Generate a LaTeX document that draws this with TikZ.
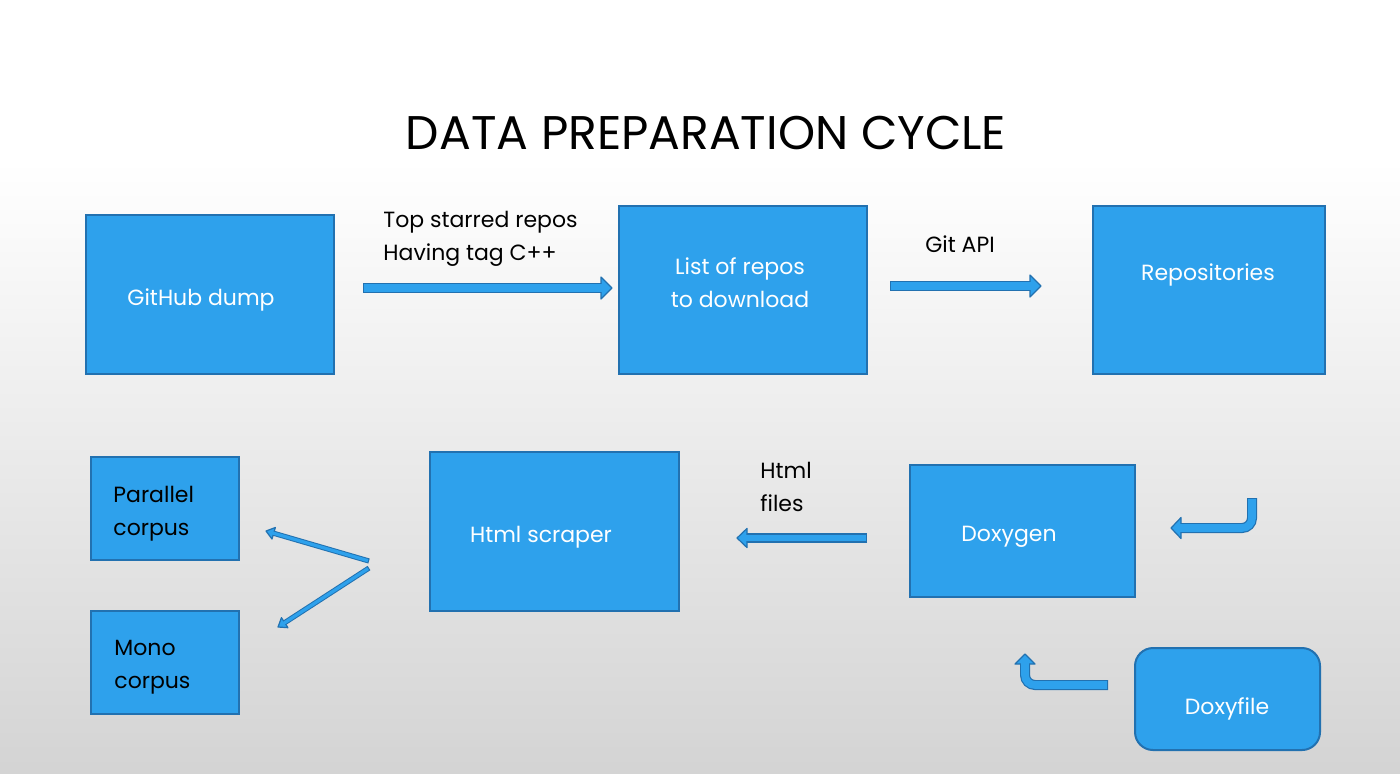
\documentclass[tikz,border=0pt]{standalone}
\usepackage{fontspec}
\setmainfont{Poppins}
\usetikzlibrary{calc}

\definecolor{boxblue}{RGB}{46,161,236}
\definecolor{edgeblue}{RGB}{34,113,176}

% block arrow: outer width, inner width, head half width, head length, tail, path op, tip, point before tip
\newcommand{\blockarrow}[8]{%
  \coordinate (base) at ($(#7)!#4!(#8)$);
  \draw[line width=#1, edgeblue, rounded corners=5pt] (#5) #6 (base);
  \filldraw[fill=boxblue, draw=edgeblue, line width=0.6pt, line join=round]
    (#7) -- ($(base)!#3!90:(#7)$) -- ($(base)!#3!-90:(#7)$) -- cycle;
  \draw[line width=#2, boxblue, rounded corners=5pt, shorten <=0.6pt, shorten >=-1pt] (#5) #6 (base);
}

\begin{document}
\begin{tikzpicture}[x=0.5pt,y=-0.5pt]

\tikzstyle{box}=[draw=edgeblue, fill=boxblue, line width=1pt, inner sep=0pt]
\tikzstyle{boxtext}=[text=white, font=\fontsize{11}{16.5}\selectfont, inner sep=0pt]
\tikzstyle{note}=[text=black, font=\fontsize{11}{16.5}\selectfont, inner sep=0pt, align=left]

% background
\fill[white] (0,0) rectangle (1400,773);
\shade[top color=white, bottom color=black!17] (0,160) rectangle (1400,773);
\useasboundingbox (0,0) rectangle (1400,773);

\node[font=\fontsize{23.6}{24}\selectfont] (title) at (706,133) {DATA PREPARATION CYCLE};

% boxes
\node[box, minimum width=124pt, minimum height=79.5pt] (dump) at (210,294.5) {};
\node[box, minimum width=124pt, minimum height=84pt] (list) at (743,290) {};
\node[box, minimum width=116pt, minimum height=84pt] (repos) at (1209,290) {};
\node[box, minimum width=74pt, minimum height=51.5pt] (parallel) at (165,508.5) {};
\node[box, minimum width=74pt, minimum height=51.5pt] (mono) at (165,662.5) {};
\node[box, minimum width=124.5pt, minimum height=79.5pt] (scraper) at (554.5,531.5) {};
\node[box, minimum width=112.5pt, minimum height=66pt] (doxygen) at (1022.5,531) {};
\node[box, rounded corners=9pt, minimum width=92.5pt, minimum height=51pt] (doxyfile) at (1227.5,699) {};

% box texts
\node[boxtext] (dumptext) at (201,300) {GitHub dump};
\node[boxtext, align=center] (listtext) at (740,283) {List of repos\\to download};
\node[boxtext] (repostext) at (1208,275) {Repositories};
\node[note, anchor=west] (paralleltext) at (113,514) {Parallel\\corpus};
\node[note, anchor=west] (monotext) at (114,667) {Mono\\corpus};
\node[boxtext] (scrapertext) at (541,537) {Html scraper};
\node[boxtext] (doxygentext) at (1009,537) {Doxygen};
\node[boxtext] (doxyfiletext) at (1227,709) {Doxyfile};

% arrow labels
\node[note, anchor=west] (starlabel) at (383,239) {Top starred repos\\Having tag C++};
\node[note] (gitlabel) at (960,244) {Git API};
\node[note, anchor=west] (htmllabel) at (760,487) {Html\\files};

% arrow ends
\coordinate (a1tail) at ($(dump.east)+(28,-6.5)$);
\coordinate (a1tip) at ($(list.west)+(-6,-2)$);
\coordinate (a2tail) at ($(list.east)+(22,-4)$);
\coordinate (a2tip) at ($(repos.west)+(-51,-4)$);
\coordinate (a3tail) at ($(doxygen.west)+(-42,7)$);
\coordinate (a3tip) at ($(scraper.east)+(57,6.5)$);
\coordinate (d1tail) at ($(scraper.west)+(-60,29.5)$);
\coordinate (d1tip) at ($(parallel.east)+(26,22.5)$);
\coordinate (d2tail) at ($(scraper.west)+(-60,36.5)$);
\coordinate (d2tip) at ($(mono.east)+(38,-35.5)$);
\coordinate (u1tail) at ($(doxygen.east)+(116,-33)$);
\coordinate (u1tip) at ($(doxygen.east)+(35,-3)$);
\coordinate (u2tail) at ($(doxyfile.west)+(-26,-14)$);
\coordinate (u2tip) at ($(doxygen.south)+(2.5,56)$);

% arrows
\blockarrow{5pt}{3.8pt}{5.5pt}{5.5pt}{a1tail}{--}{a1tip}{a1tail}
\blockarrow{5pt}{3.8pt}{5.5pt}{5.5pt}{a2tail}{--}{a2tip}{a2tail}
\blockarrow{4.6pt}{3.4pt}{4.8pt}{5pt}{a3tail}{--}{a3tip}{a3tail}
\blockarrow{2.6pt}{1.6pt}{3pt}{4pt}{d1tail}{--}{d1tip}{d1tail}
\blockarrow{2.6pt}{1.6pt}{3pt}{4pt}{d2tail}{--}{d2tip}{d2tail}
\blockarrow{5pt}{3.8pt}{5.25pt}{5pt}{u1tail}{|-}{u1tip}{u1tail |- u1tip}
\blockarrow{5pt}{3.8pt}{5pt}{5pt}{u2tail}{-|}{u2tip}{u2tail -| u2tip}

\end{tikzpicture}
\end{document}
